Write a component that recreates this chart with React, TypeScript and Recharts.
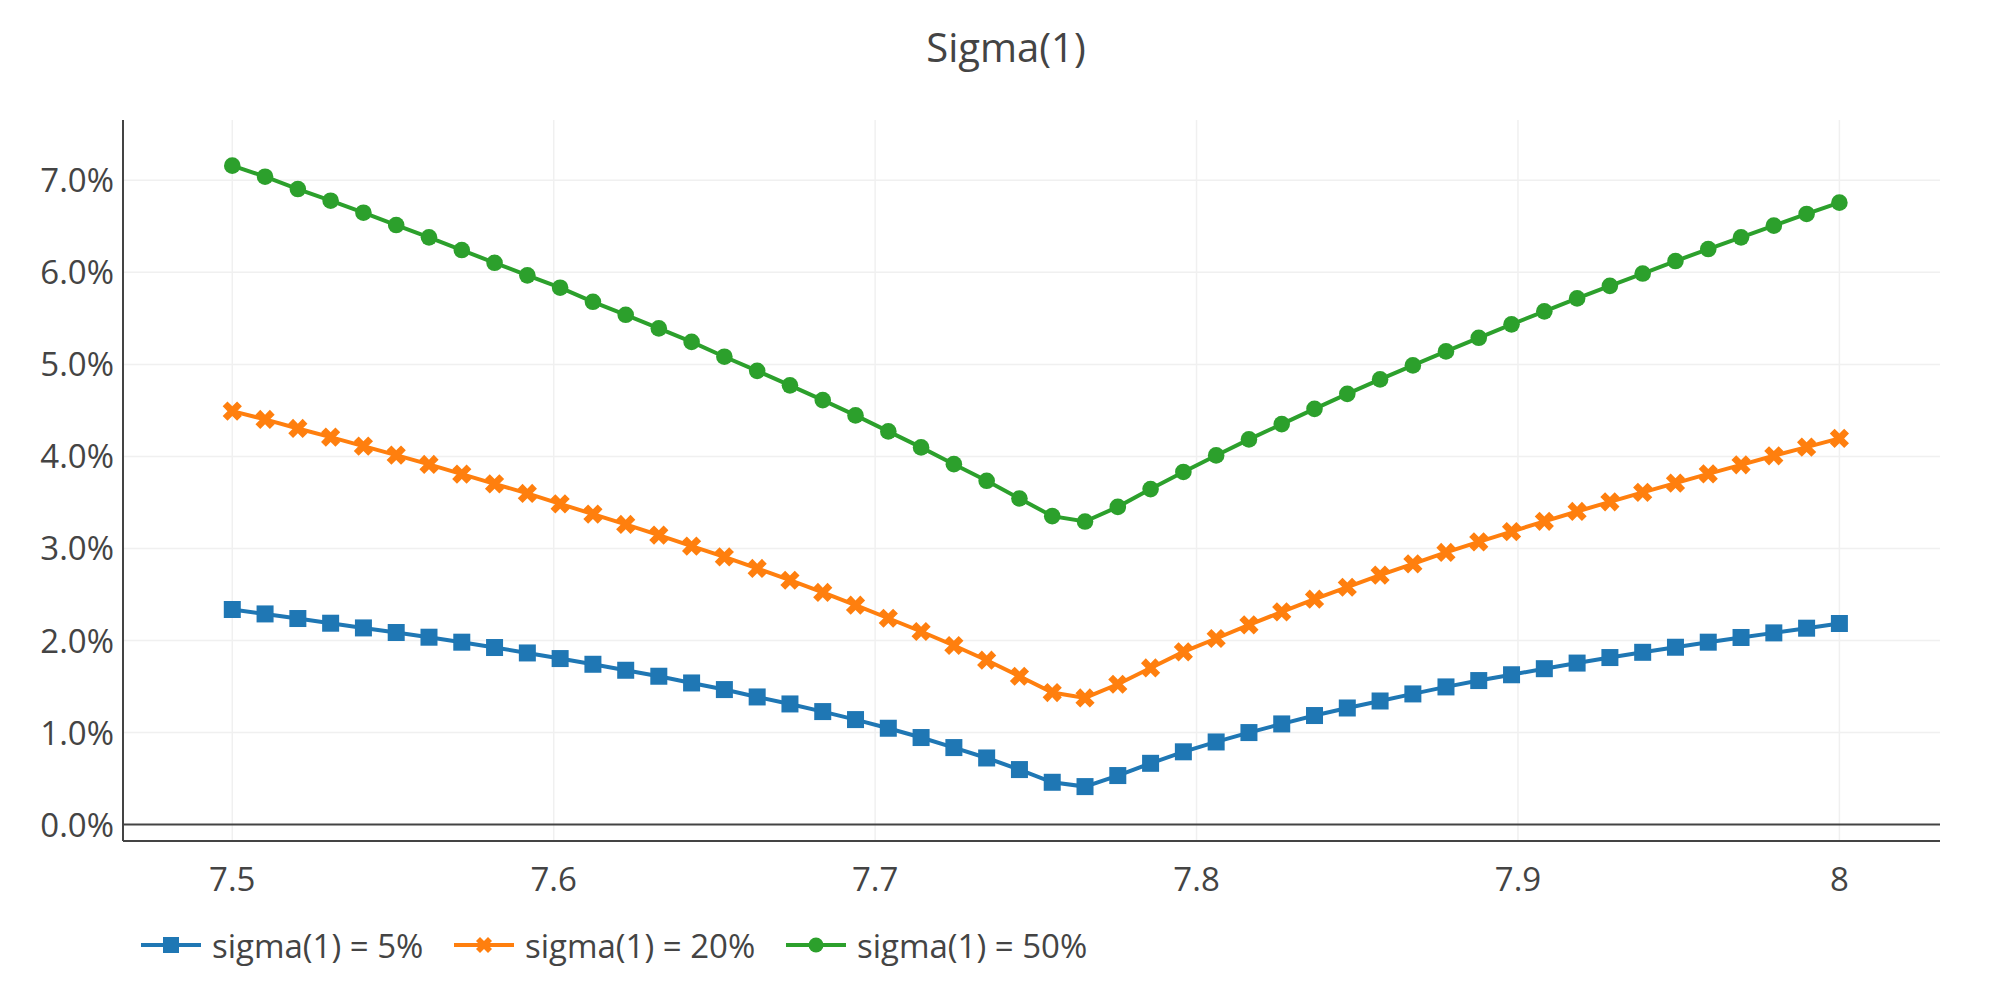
import { LineChart, Line, XAxis, YAxis, CartesianGrid, ReferenceLine } from 'recharts';

// x grid: 50 points from 7.5 to 8
const xValues = [
  7.5, 7.5102, 7.5204, 7.5306, 7.5408, 7.551, 7.5612, 7.5714, 7.5816, 7.5918,
  7.602, 7.6122, 7.6224, 7.6327, 7.6429, 7.6531, 7.6633, 7.6735, 7.6837, 7.6939,
  7.7041, 7.7143, 7.7245, 7.7347, 7.7449, 7.7551, 7.7653, 7.7755, 7.7857, 7.7959,
  7.8061, 7.8163, 7.8265, 7.8367, 7.8469, 7.8571, 7.8673, 7.8776, 7.8878, 7.898,
  7.9082, 7.9184, 7.9286, 7.9388, 7.949, 7.9592, 7.9694, 7.9796, 7.9898, 8.0,
];

// values in percent
const sigma5 = [
  2.337, 2.289, 2.239, 2.188, 2.137, 2.087, 2.036, 1.982, 1.924, 1.865,
  1.804, 1.742, 1.677, 1.612, 1.539, 1.467, 1.387, 1.311, 1.228, 1.141,
  1.047, 0.946, 0.837, 0.724, 0.598, 0.46, 0.413, 0.533, 0.666, 0.791,
  0.898, 1.0, 1.094, 1.185, 1.267, 1.343, 1.42, 1.496, 1.565, 1.628,
  1.694, 1.755, 1.815, 1.872, 1.927, 1.982, 2.033, 2.083, 2.134, 2.185,
];

const sigma20 = [
  4.492, 4.402, 4.304, 4.21, 4.112, 4.014, 3.913, 3.808, 3.702, 3.598,
  3.485, 3.373, 3.261, 3.145, 3.026, 2.909, 2.783, 2.655, 2.522, 2.384,
  2.242, 2.098, 1.946, 1.786, 1.612, 1.435, 1.376, 1.525, 1.702, 1.877,
  2.022, 2.17, 2.311, 2.449, 2.579, 2.71, 2.833, 2.957, 3.072, 3.183,
  3.295, 3.402, 3.507, 3.609, 3.71, 3.811, 3.909, 4.007, 4.101, 4.196,
];

const sigma50 = [
  7.159, 7.039, 6.905, 6.778, 6.648, 6.514, 6.38, 6.242, 6.104, 5.967,
  5.833, 5.68, 5.539, 5.391, 5.244, 5.083, 4.93, 4.772, 4.612, 4.446,
  4.272, 4.098, 3.916, 3.735, 3.543, 3.351, 3.293, 3.452, 3.645, 3.831,
  4.011, 4.185, 4.351, 4.517, 4.68, 4.837, 4.989, 5.141, 5.289, 5.435,
  5.576, 5.717, 5.853, 5.987, 6.123, 6.253, 6.38, 6.507, 6.634, 6.757,
];

const xTicks = [7.5, 7.6, 7.7, 7.8, 7.9, 8];
const yTicks = [0, 1, 2, 3, 4, 5, 6, 7];
const yGrid = [1, 2, 3, 4, 5, 6, 7];
const seriesNames = ['sigma(1) = 5%', 'sigma(1) = 20%', 'sigma(1) = 50%'];

const BLUE = '#1f77b4';
const ORANGE = '#ff7f0e';
const GREEN = '#2ca02c';
const TEXT = '#444';
const FONT = "'Open Sans', verdana, arial, sans-serif";

const data = xValues.map((x, i) => ({ x, s5: sigma5[i], s20: sigma20[i], s50: sigma50[i] }));

// plotly-style thick "x" marker
function xPath(cx: number, cy: number, rx: number) {
  const ne = `l${rx},${rx}`;
  const se = `l${rx},${-rx}`;
  const sw = `l${-rx},${-rx}`;
  const nw = `l${-rx},${rx}`;
  return `M${cx},${cy + rx}${ne}${se}${sw}${se}${sw}${nw}${sw}${nw}${ne}${nw}${ne}Z`;
}

const squareDot = (p: any) =>
  p.cx == null ? null : (
    <rect key={`sq${p.index}`} x={p.cx - 8.5} y={p.cy - 8.5} width={17} height={17} fill={BLUE} />
  );

const crossDot = (p: any) =>
  p.cx == null ? null : <path key={`x${p.index}`} d={xPath(p.cx, p.cy, 4.8)} fill={ORANGE} />;

const circleDot = (p: any) =>
  p.cx == null ? null : <circle key={`c${p.index}`} cx={p.cx} cy={p.cy} r={8.3} fill={GREEN} />;

const fmtX = (v: number) => String(Number(v.toFixed(1)));

const XTick = ({ x, y, payload }: any) => (
  <text x={x} y={y + 42} textAnchor="middle" fill={TEXT} fontSize={33} fontFamily={FONT}>
    {fmtX(payload.value)}
  </text>
);

const YTick = ({ x, y, payload }: any) => (
  <text x={x - 1} y={y + 12} textAnchor="end" fill={TEXT} fontSize={33} fontFamily={FONT}>
    {`${payload.value.toFixed(1)}%`}
  </text>
);

function LegendIcon({ kind, color }: { kind: number; color: string }) {
  return (
    <svg width={60} height={30} style={{ display: 'block', marginRight: 11 }}>
      <line x1={0} y1={15} x2={60} y2={15} stroke={color} strokeWidth={4} />
      {kind === 0 && <rect x={22} y={7} width={16} height={16} fill={color} />}
      {kind === 1 && <path d={xPath(30, 15, 4)} fill={color} />}
      {kind === 2 && <circle cx={30} cy={15} r={7.5} fill={color} />}
    </svg>
  );
}

const legendColors = [BLUE, ORANGE, GREEN];
const legendLefts = [141, 454, 786];

export default function App() {
  return (
    <div style={{ position: 'absolute', left: 0, top: 0, width: 2000, height: 1000, background: '#fff' }}>
      <div
        style={{
          position: 'absolute',
          left: 0,
          top: 20,
          width: 2012,
          textAlign: 'center',
          fontFamily: FONT,
          fontSize: 40,
          lineHeight: '54px',
          color: TEXT,
        }}
      >
        Sigma(1)
      </div>
      <LineChart width={2000} height={1000} data={data} margin={{ top: 120, right: 60, bottom: 0, left: 0 }}>
        <CartesianGrid
          stroke="#f0f0f0"
          strokeWidth={1.5}
          horizontalValues={yGrid}
          verticalValues={xTicks}
        />
        <XAxis
          dataKey="x"
          type="number"
          domain={[7.466, 8.0313]}
          allowDataOverflow
          ticks={xTicks}
          height={159}
          tickLine={false}
          axisLine={{ stroke: TEXT, strokeWidth: 2 }}
          tick={<XTick />}
        />
        <YAxis
          type="number"
          domain={[-0.178, 7.655]}
          allowDataOverflow
          ticks={yTicks}
          width={123}
          tickLine={false}
          axisLine={{ stroke: TEXT, strokeWidth: 2 }}
          tick={<YTick />}
        />
        <ReferenceLine y={0} stroke={TEXT} strokeWidth={2} />
        <Line
          type="linear"
          dataKey="s5"
          stroke={BLUE}
          strokeWidth={4}
          dot={squareDot}
          activeDot={false}
          isAnimationActive={false}
        />
        <Line
          type="linear"
          dataKey="s20"
          stroke={ORANGE}
          strokeWidth={4}
          dot={crossDot}
          activeDot={false}
          isAnimationActive={false}
        />
        <Line
          type="linear"
          dataKey="s50"
          stroke={GREEN}
          strokeWidth={4}
          dot={circleDot}
          activeDot={false}
          isAnimationActive={false}
        />
      </LineChart>
      {seriesNames.map((name, i) => (
        <div
          key={name}
          style={{
            position: 'absolute',
            left: legendLefts[i],
            top: 925,
            height: 40,
            display: 'flex',
            alignItems: 'center',
            fontFamily: FONT,
            fontSize: 33,
            color: TEXT,
            whiteSpace: 'nowrap',
          }}
        >
          <LegendIcon kind={i} color={legendColors[i]} />
          <span>{name}</span>
        </div>
      ))}
    </div>
  );
}
